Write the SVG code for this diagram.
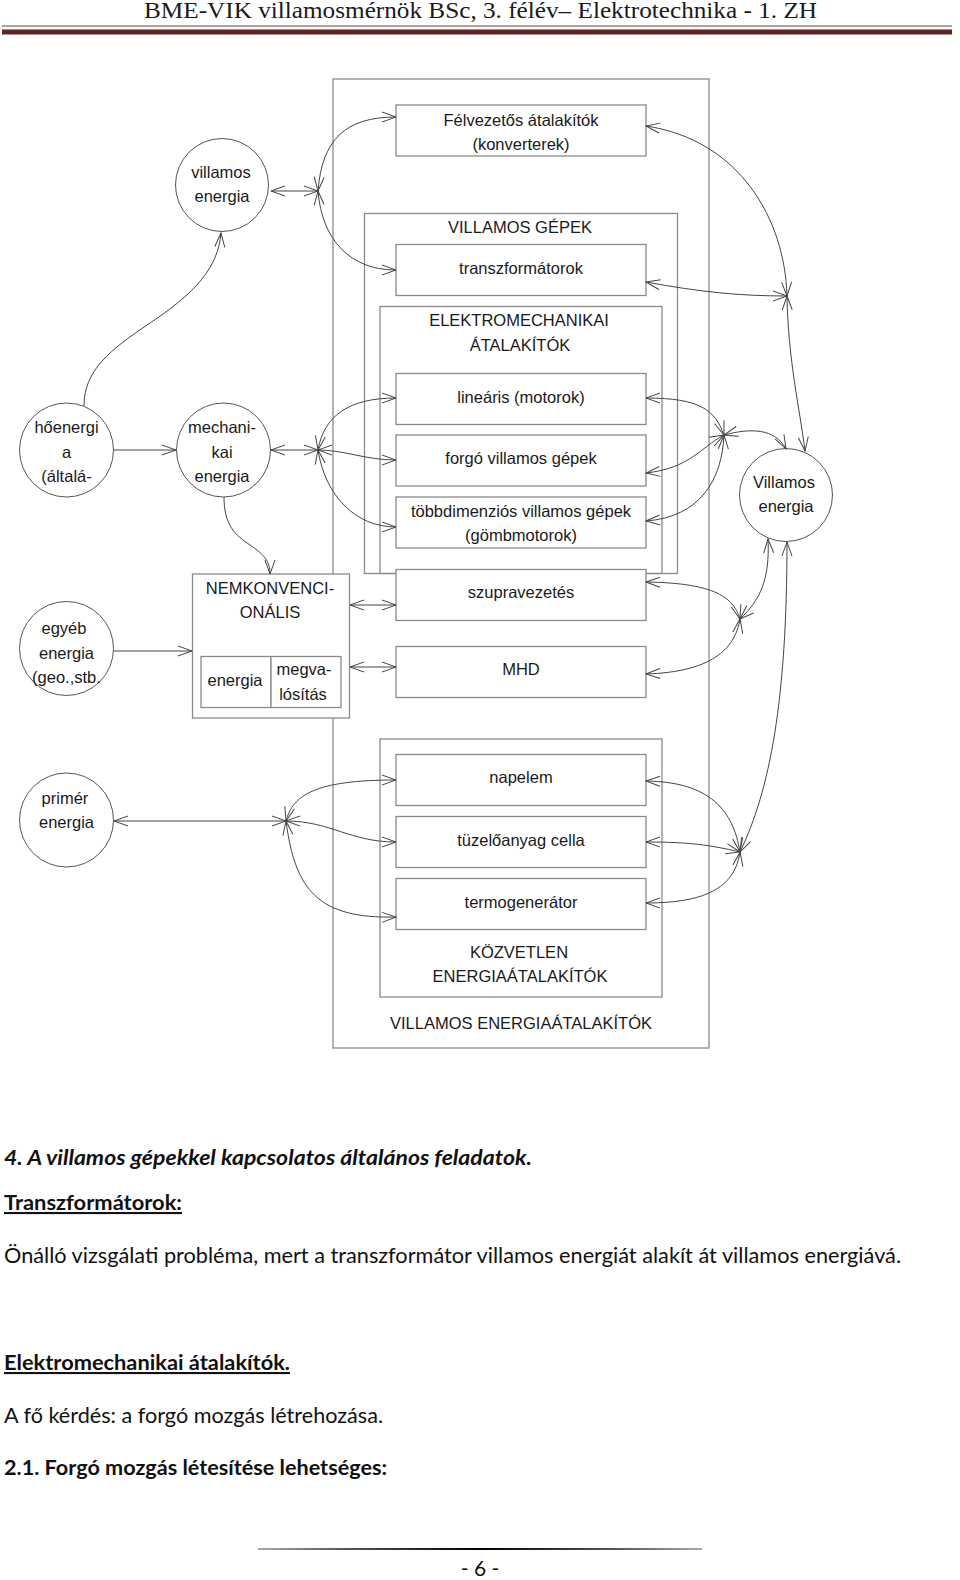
<svg xmlns="http://www.w3.org/2000/svg" width="960" height="1580" viewBox="0 0 960 1580">
<defs>
<marker id="ah" viewBox="-16 -8 18 16" refX="0" refY="0" markerWidth="18" markerHeight="16" markerUnits="userSpaceOnUse" orient="auto-start-reverse" overflow="visible">
<path d="M-14,-5 L0,0 L-14,5" fill="none" stroke="#444" stroke-width="1"/>
</marker>
<linearGradient id="fl" x1="0" y1="0" x2="1" y2="0">
<stop offset="0" stop-color="#aaa"/><stop offset="0.2" stop-color="#555"/><stop offset="0.5" stop-color="#000"/><stop offset="0.8" stop-color="#555"/><stop offset="1" stop-color="#aaa"/>
</linearGradient>
</defs>
<style>
.box{fill:#fff;stroke:#8a8a8a;stroke-width:1.3}
.cont{fill:none;stroke:#8a8a8a;stroke-width:1.3}
.circ{fill:#fff;stroke:#555;stroke-width:1}
.t{font-family:"Liberation Sans",Arial,sans-serif;font-size:16.5px;fill:#1a1a1a;text-anchor:middle}
.c{fill:none;stroke:#444;stroke-width:1}
.d{marker-start:url(#ah);marker-end:url(#ah)}
.s{marker-end:url(#ah)}
.body{font-family:Lato,"Liberation Sans",sans-serif;font-size:21px;fill:#111}
</style>
<rect width="960" height="1580" fill="#fff"/>
<g id="header">
<text x="480.5" y="18" font-family="'Liberation Serif',serif" font-size="23" fill="#1a1a1a" text-anchor="middle" textLength="673" lengthAdjust="spacingAndGlyphs">BME-VIK villamosmérnök BSc, 3. félév– Elektrotechnika - 1. ZH</text>
<line x1="2" y1="26" x2="952" y2="26" stroke="#7a3b3b" stroke-width="1.2"/>
<line x1="2" y1="32" x2="952" y2="32" stroke="#622423" stroke-width="5"/>
</g>
<g id="containers">
<rect id="villamos-energiaatalakitok" class="cont" x="333" y="79" width="376" height="969"/>
<rect id="villamos-gepek" class="cont" x="364.5" y="213.5" width="313" height="360"/>
<rect id="elektromechanikai" class="cont" x="380" y="306.5" width="282" height="267"/>
<rect id="kozvetlen" class="cont" x="380" y="739" width="282" height="258"/>
<text class="t" x="521" y="1029">VILLAMOS ENERGIAÁTALAKÍTÓK</text>
<text class="t" x="520" y="233">VILLAMOS GÉPEK</text>
<text class="t" x="519" y="326">ELEKTROMECHANIKAI</text>
<text class="t" x="520" y="350.5">ÁTALAKÍTÓK</text>
<text class="t" x="519" y="958">KÖZVETLEN</text>
<text class="t" x="520" y="982">ENERGIAÁTALAKÍTÓK</text>
</g>
<g id="n-felvezetos"><rect class="box" x="396" y="105" width="250" height="51"/><text class="t" x="521" y="125.5">Félvezetős átalakítók</text><text class="t" x="521" y="149.5">(konverterek)</text></g>
<g id="n-transzformatorok"><rect class="box" x="396" y="244.5" width="250" height="51"/><text class="t" x="521" y="274">transzformátorok</text></g>
<g id="n-linearis"><rect class="box" x="396" y="373.5" width="250" height="51"/><text class="t" x="521" y="403">lineáris (motorok)</text></g>
<g id="n-forgo"><rect class="box" x="396" y="435" width="250" height="51"/><text class="t" x="521" y="464">forgó villamos gépek</text></g>
<g id="n-tobbdim"><rect class="box" x="396" y="497" width="250" height="51"/><text class="t" x="521" y="516.5">többdimenziós villamos gépek</text><text class="t" x="521" y="541">(gömbmotorok)</text></g>
<g id="n-szupra"><rect class="box" x="396" y="569.5" width="250" height="51"/><text class="t" x="521" y="597.5">szupravezetés</text></g>
<g id="n-mhd"><rect class="box" x="396" y="646.5" width="250" height="51"/><text class="t" x="521" y="675">MHD</text></g>
<g id="n-napelem"><rect class="box" x="396" y="754.5" width="250" height="51"/><text class="t" x="521" y="783">napelem</text></g>
<g id="n-tuzelo"><rect class="box" x="396" y="816.5" width="250" height="51"/><text class="t" x="521" y="846">tüzelőanyag cella</text></g>
<g id="n-termo"><rect class="box" x="396" y="878.5" width="250" height="51"/><text class="t" x="521" y="907.5">termogenerátor</text></g>
<g id="n-nemkonv">
<rect class="box" x="192.5" y="574" width="157" height="144"/>
<rect class="box" x="201" y="656.5" width="70" height="51"/>
<rect class="box" x="271" y="656.5" width="70" height="51"/>
<text class="t" x="270" y="594">NEMKONVENCI-</text>
<text class="t" x="270" y="617.5">ONÁLIS</text>
<text class="t" x="235" y="686">energia</text>
<text class="t" x="304" y="675">megva-</text>
<text class="t" x="303" y="700">lósítás</text>
</g>
<g id="n-villamos-energia-top"><circle class="circ" cx="222" cy="185" r="46.5"/><text class="t" x="221" y="178">villamos</text><text class="t" x="222" y="202">energia</text></g>
<g id="n-hoenergia"><circle class="circ" cx="66.5" cy="450" r="47"/><text class="t" x="66.5" y="432.5">hőenergi</text><text class="t" x="66.5" y="457.5">a</text><text class="t" x="66.5" y="481.5">(általá-</text></g>
<g id="n-mechanikai"><circle class="circ" cx="223.5" cy="450" r="47"/><text class="t" x="222" y="433">mechani-</text><text class="t" x="222" y="458">kai</text><text class="t" x="222" y="481.5">energia</text></g>
<g id="n-villamos-energia-right"><circle class="circ" cx="786" cy="495" r="46.5"/><text class="t" x="784" y="487.5">Villamos</text><text class="t" x="786" y="512">energia</text></g>
<g id="n-egyeb"><circle class="circ" cx="66.5" cy="648.5" r="47"/><text class="t" x="64" y="634">egyéb</text><text class="t" x="66.5" y="658.5">energia</text><text class="t" x="66.5" y="682.5">(geo.,stb.</text></g>
<g id="n-primer"><circle class="circ" cx="66.5" cy="820" r="47"/><text class="t" x="65" y="804">primér</text><text class="t" x="66.5" y="827.5">energia</text></g>
<g id="connectors">
<path class="c d" d="M271,191 L318,191"/>
<path class="c d" d="M318,191 C322,140 345,117 396,117"/>
<path class="c d" d="M318,191 C322,240 350,270 396,270"/>
<path class="c s" d="M84,406 C84,370 110,350 150,323 C195,293 218,268 221,233"/>
<path class="c s" d="M114,450 L176,450"/>
<path class="c d" d="M271,450 L318,450"/>
<path class="c d" d="M318,450 C324,415 350,398 396,398"/>
<path class="c d" d="M318,450 C345,450 365,460 396,460"/>
<path class="c d" d="M318,450 C325,495 355,527 396,527"/>
<path class="c s" d="M224,497 C224,525 235,535 250,545 C265,555 270,562 270,574"/>
<path class="c s" d="M114,651 L192,651"/>
<path class="c d" d="M350,605 L396,605"/>
<path class="c d" d="M350,667 L396,667"/>
<path class="c d" d="M114,821 L286,821"/>
<path class="c d" d="M286,821 C293,795 315,780 396,780"/>
<path class="c d" d="M286,821 C330,821 350,842 396,842"/>
<path class="c d" d="M286,821 C295,890 318,919 396,917"/>
<path class="c d" d="M787,296 C785,220 740,140 646,126"/>
<path class="c d" d="M787,296 C740,296 700,292 646,282"/>
<path class="c d" d="M787,296 C788,360 800,410 805,451"/>
<path class="c d" d="M724,435 C715,410 700,398 646,398"/>
<path class="c d" d="M724,435 C700,448 690,468 646,473"/>
<path class="c d" d="M724,435 C722,480 700,517 646,521"/>
<path class="c d" d="M724,435 C750,428 775,428 786,449"/>
<path class="c d" d="M740,619 C733,595 710,583 646,582"/>
<path class="c d" d="M740,619 C735,650 710,672 646,674"/>
<path class="c d" d="M740,619 C760,600 770,580 768,539"/>
<path class="c d" d="M740,852 C733,810 710,782 646,781"/>
<path class="c d" d="M740,852 C710,845 690,842 646,842"/>
<path class="c d" d="M740,852 C735,885 710,903 646,903"/>
<path class="c d" d="M740,852 C770,790 787,700 787,542"/>
</g>
<g id="body-text">
<text class="body" x="4" y="1165" font-weight="bold" font-style="italic" textLength="528" lengthAdjust="spacingAndGlyphs">4. A villamos gépekkel kapcsolatos általános feladatok.</text>
<text class="body" x="4" y="1210" font-weight="bold" text-decoration="underline" textLength="178" lengthAdjust="spacingAndGlyphs">Transzformátorok:</text>
<text class="body" x="4" y="1263" textLength="897" lengthAdjust="spacingAndGlyphs">Önálló vizsgálati probléma, mert a transzformátor villamos energiát alakít át villamos energiává.</text>
<text class="body" x="4" y="1370" font-weight="bold" text-decoration="underline" textLength="286" lengthAdjust="spacingAndGlyphs">Elektromechanikai átalakítók.</text>
<text class="body" x="4" y="1423" textLength="379" lengthAdjust="spacingAndGlyphs">A fő kérdés: a forgó mozgás létrehozása.</text>
<text class="body" x="4" y="1475" font-weight="bold" textLength="383" lengthAdjust="spacingAndGlyphs">2.1. Forgó mozgás létesítése lehetséges:</text>
</g>
<g id="footer">
<rect x="258" y="1548" width="444" height="2" fill="url(#fl)"/>
<text class="body" x="480" y="1576" text-anchor="middle">- 6 -</text>
</g>
</svg>
